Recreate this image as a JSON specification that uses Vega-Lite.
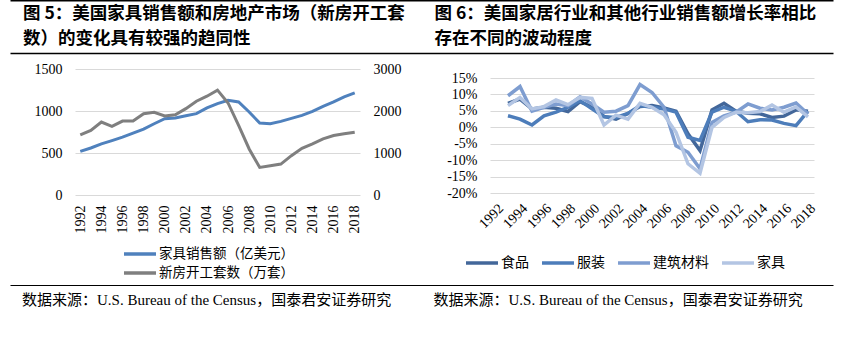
{
  "$schema": "https://vega.github.io/schema/vega-lite/v6.json",
  "background": "white",
  "padding": {"left": 10, "top": 0, "right": 0, "bottom": 0},
  "spacing": 5,
  "resolve": {"scale": {"x": "independent", "y": "independent", "color": "independent"}, "legend": {"color": "independent"}},
  "vconcat": [
    {
      "width": 758,
      "height": 57,
      "data": {"values": [
        {"panel": "L", "line": 1, "text": "图 5：美国家具销售额和房地产市场（新房开工套"},
        {"panel": "L", "line": 2, "text": "数）的变化具有较强的趋同性"},
        {"panel": "R", "line": 1, "text": "图 6：美国家居行业和其他行业销售额增长率相比"},
        {"panel": "R", "line": 2, "text": "存在不同的波动程度"}
      ]},
      "layer": [
        {
          "transform": [{"filter": "datum.line == 1"}],
          "mark": {"type": "text", "align": "left", "baseline": "middle", "dx": 13, "font": "Noto Sans CJK SC", "fontWeight": "bold", "fontSize": 17.5, "color": "#000"},
          "encoding": {
            "x": {"field": "panel", "type": "nominal", "bandPosition": 0, "scale": {"type": "band", "paddingInner": 0, "paddingOuter": 0, "range": [-65, 758]}, "axis": {"orient": "top", "domain": true, "domainColor": "#000", "domainWidth": 2, "labels": false, "ticks": false, "grid": false, "title": null}},
            "y": {"field": "line", "type": "ordinal", "scale": {"type": "point", "padding": 0.64, "align": 0.44, "domain": [1, 2]}, "axis": null},
            "text": {"field": "text"}
          }
        },
        {
          "transform": [{"filter": "datum.line == 2"}],
          "mark": {"type": "text", "align": "left", "baseline": "middle", "dx": 13, "font": "Noto Sans CJK SC", "fontWeight": "bold", "fontSize": 17.5, "color": "#000"},
          "encoding": {
            "x": {"field": "panel", "type": "nominal", "bandPosition": 0, "scale": {"type": "band", "paddingInner": 0, "paddingOuter": 0, "range": [-65, 758]}, "axis": {"orient": "bottom", "offset": -4, "domain": true, "domainColor": "#000", "domainWidth": 1.5, "labels": false, "ticks": false, "grid": false, "title": null}},
            "y": {"field": "line", "type": "ordinal", "scale": {"type": "point", "padding": 0.64, "align": 0.44, "domain": [1, 2]}, "axis": null},
            "text": {"field": "text"}
          }
        }
      ],
      "resolve": {"axis": {"x": "independent"}}
    },
    {
      "spacing": 45,
      "resolve": {"scale": {"color": "independent"}, "legend": {"color": "independent"}},
      "hconcat": [
        {
          "width": 285,
          "height": 126,
          "data": {"values": [
            {"year": "1992", "sales": 520, "starts": 1432},
            {"year": "1993", "sales": 560, "starts": 1536},
            {"year": "1994", "sales": 608, "starts": 1736},
            {"year": "1995", "sales": 648, "starts": 1632},
            {"year": "1996", "sales": 688, "starts": 1760},
            {"year": "1997", "sales": 736, "starts": 1760},
            {"year": "1998", "sales": 784, "starts": 1936},
            {"year": "1999", "sales": 848, "starts": 1968},
            {"year": "2000", "sales": 908, "starts": 1880},
            {"year": "2001", "sales": 916, "starts": 1912},
            {"year": "2002", "sales": 944, "starts": 2056},
            {"year": "2003", "sales": 968, "starts": 2232},
            {"year": "2004", "sales": 1036, "starts": 2352},
            {"year": "2005", "sales": 1088, "starts": 2496},
            {"year": "2006", "sales": 1128, "starts": 2192},
            {"year": "2007", "sales": 1108, "starts": 1656},
            {"year": "2008", "sales": 988, "starts": 1096},
            {"year": "2009", "sales": 856, "starts": 656},
            {"year": "2010", "sales": 848, "starts": 696},
            {"year": "2011", "sales": 876, "starts": 736},
            {"year": "2012", "sales": 912, "starts": 936},
            {"year": "2013", "sales": 948, "starts": 1112},
            {"year": "2014", "sales": 996, "starts": 1216},
            {"year": "2015", "sales": 1056, "starts": 1336},
            {"year": "2016", "sales": 1108, "starts": 1416},
            {"year": "2017", "sales": 1168, "starts": 1456},
            {"year": "2018", "sales": 1216, "starts": 1496}
          ]},
          "encoding": {
            "x": {"field": "year", "type": "ordinal", "scale": {"type": "point", "padding": 0.5}, "axis": {"values": ["1992","1994","1996","1998","2000","2002","2004","2006","2008","2010","2012","2014","2016","2018"], "labelAngle": -90, "labelPadding": 10, "title": null}}
          },
          "layer": [
            {
              "mark": {"type": "line", "strokeWidth": 3},
              "encoding": {
                "y": {"field": "sales", "type": "quantitative", "scale": {"domain": [0, 1500]}, "axis": {"values": [0, 500, 1000, 1500], "format": "d", "grid": true, "labelPadding": 13, "minExtent": 65, "title": null}},
                "color": {"datum": "家具销售额（亿美元）", "type": "nominal", "scale": {"domain": ["家具销售额（亿美元）", "新房开工套数（万套）"], "range": ["#4F81BD", "#7F7F7F"]}, "legend": {"orient": "none", "legendX": 58, "legendY": 178, "direction": "vertical", "title": null, "rowPadding": 5, "labelFontSize": 13.5}}
              }
            },
            {
              "mark": {"type": "line", "strokeWidth": 3},
              "encoding": {
                "y": {"field": "starts", "type": "quantitative", "scale": {"domain": [0, 3000]}, "axis": {"orient": "right", "values": [0, 1000, 2000, 3000], "format": "d", "grid": false, "labelPadding": 13, "title": null}},
                "color": {"datum": "新房开工套数（万套）", "type": "nominal"}
              }
            }
          ],
          "resolve": {"scale": {"y": "independent"}}
        },
        {
          "width": 324,
          "height": 126,
          "data": {"values": [
            {"year": "1993", "食品": 7.3, "服装": 3.5, "建筑材料": 9.6, "家具": 6.6},
            {"year": "1994", "食品": 8.6, "服装": 2.5, "建筑材料": 12.4, "家具": 9.1},
            {"year": "1995", "食品": 5.6, "服装": 0.7, "建筑材料": 4.9, "家具": 5.6},
            {"year": "1996", "食品": 6.1, "服装": 3.5, "建筑材料": 6.1, "家具": 6.3},
            {"year": "1997", "食品": 5.8, "服装": 4.6, "建筑材料": 7.1, "家具": 8.3},
            {"year": "1998", "食品": 4.8, "服装": 6.1, "建筑材料": 6.6, "家具": 6.9},
            {"year": "1999", "食品": 7.8, "服装": 8.1, "建筑材料": 9.3, "家具": 9.1},
            {"year": "2000", "食品": 6.1, "服装": 5.6, "建筑材料": 7.1, "家具": 8.8},
            {"year": "2001", "食品": 3.3, "服装": 3.2, "建筑材料": 4.6, "家具": 0.7},
            {"year": "2002", "食品": 2.5, "服装": 3.0, "建筑材料": 4.9, "家具": 3.7},
            {"year": "2003", "食品": 4.2, "服装": 4.2, "建筑材料": 6.6, "家具": 2.5},
            {"year": "2004", "食品": 6.3, "服装": 6.6, "建筑材料": 13.0, "家具": 7.3},
            {"year": "2005", "食品": 6.6, "服装": 6.1, "建筑材料": 10.6, "家具": 6.1},
            {"year": "2006", "食品": 5.9, "服装": 5.6, "建筑材料": 6.1, "家具": 3.8},
            {"year": "2007", "食品": 4.9, "服装": 4.6, "建筑材料": -5.6, "家具": -1.5},
            {"year": "2008", "食品": -2.0, "服装": -3.0, "建筑材料": -7.6, "家具": -11.1},
            {"year": "2009", "食品": -7.1, "服装": -4.0, "建筑材料": -12.6, "家具": -14.0},
            {"year": "2010", "食品": 5.3, "服装": 4.6, "建筑材料": 1.5, "家具": 0.0},
            {"year": "2011", "食品": 7.3, "服装": 6.1, "建筑材料": 3.5, "家具": 3.0},
            {"year": "2012", "食品": 4.9, "服装": 4.9, "建筑材料": 4.6, "家具": 4.6},
            {"year": "2013", "食品": 4.3, "服装": 1.7, "建筑材料": 7.1, "家具": 4.4},
            {"year": "2014", "食品": 4.1, "服装": 2.3, "建筑材料": 5.8, "家具": 4.8},
            {"year": "2015", "食品": 3.0, "服装": 2.2, "建筑材料": 5.3, "家具": 6.8},
            {"year": "2016", "食品": 3.4, "服装": 1.2, "建筑材料": 6.1, "家具": 4.6},
            {"year": "2017", "食品": 5.3, "服装": 0.5, "建筑材料": 7.4, "家具": 6.2},
            {"year": "2018", "食品": 4.9, "服装": 4.9, "建筑材料": 4.0, "家具": 3.2}
          ]},
          "transform": [{"fold": ["食品", "服装", "建筑材料", "家具"], "as": ["series", "value"]}],
          "mark": {"type": "line", "strokeWidth": 3.5},
          "encoding": {
            "x": {"field": "year", "type": "ordinal", "scale": {"type": "point", "padding": 0.5, "domain": ["1992","1993","1994","1995","1996","1997","1998","1999","2000","2001","2002","2003","2004","2005","2006","2007","2008","2009","2010","2011","2012","2013","2014","2015","2016","2017","2018"]}, "axis": {"values": ["1992","1994","1996","1998","2000","2002","2004","2006","2008","2010","2012","2014","2016","2018"], "labelAngle": -45, "labelPadding": 6, "title": null}},
            "y": {"field": "value", "type": "quantitative", "scale": {"domain": [-20.6, 17.74], "nice": false, "zero": false}, "axis": {"values": [-20, -15, -10, -5, 0, 5, 10, 15], "grid": true, "labelExpr": "datum.value + '%'", "labelPadding": 13, "minExtent": 42, "title": null}},
            "color": {"field": "series", "type": "nominal", "sort": ["食品", "服装", "建筑材料", "家具"], "scale": {"domain": ["食品", "服装", "建筑材料", "家具"], "range": ["#43679A", "#4D7DBA", "#7E9DD0", "#B3C5E3"]}, "legend": {"orient": "none", "legendX": -15, "legendY": 187, "direction": "horizontal", "title": null, "columnPadding": 6}}
          }
        }
      ]
    },
    {
      "width": 758,
      "height": 30,
      "data": {"values": [
        {"panel": "L", "text": "数据来源：U.S. Bureau of the Census，国泰君安证券研究"},
        {"panel": "R", "text": "数据来源：U.S. Bureau of the Census，国泰君安证券研究"}
      ]},
      "mark": {"type": "text", "align": "left", "baseline": "middle", "dx": 12, "font": "Liberation Serif, Noto Sans CJK SC", "fontSize": 15, "color": "#000"},
      "encoding": {
        "x": {"field": "panel", "type": "nominal", "bandPosition": 0, "scale": {"type": "band", "paddingInner": 0, "paddingOuter": 0, "range": [-65, 758]}, "axis": {"orient": "top", "domain": true, "domainColor": "#000", "domainWidth": 1.2, "labels": false, "ticks": false, "grid": false, "title": null}},
        "text": {"field": "text"}
      }
    }
  ],
  "config": {
    "view": {"stroke": null},
    "axis": {"domain": false, "ticks": false, "labelFont": "Liberation Serif", "labelFontSize": 14, "labelColor": "#000", "gridColor": "#D9D9D9", "gridWidth": 1},
    "legend": {"labelFont": "Noto Sans CJK SC", "labelFontSize": 14, "labelColor": "#000", "symbolType": "M-3.2,0H3.2", "symbolStrokeWidth": 3.5, "symbolSize": 100, "labelOffset": 12}
  }
}
